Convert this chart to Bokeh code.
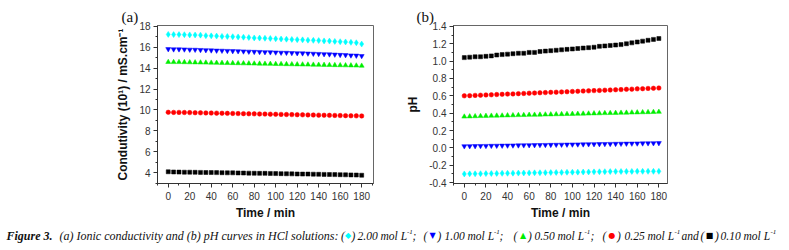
from bokeh.plotting import figure
from bokeh.layouts import column, row
from bokeh.models import Range1d, Title, SingleIntervalTicker, PrintfTickFormatter
from bokeh.core.properties import value
from bokeh.embed import file_html
from bokeh.resources import INLINE

# ---------------- data ----------------
time_min = [0, 5, 10, 15, 20, 25, 30, 35, 40, 45, 50, 55, 60, 65, 70, 75, 80, 85, 90,
            95, 100, 105, 110, 115, 120, 125, 130, 135, 140, 145, 150, 155, 160, 165,
            170, 175, 180]

cond_200 = [17.22, 17.20, 17.20, 17.19, 17.17, 17.16, 17.15, 17.10, 17.08, 17.06, 17.03,
            17.02, 17.00, 16.98, 16.95, 16.92, 16.88, 16.87, 16.85, 16.83, 16.80, 16.78,
            16.76, 16.74, 16.72, 16.70, 16.67, 16.65, 16.63, 16.60, 16.58, 16.55, 16.52,
            16.50, 16.46, 16.42, 16.30]
cond_100 = [15.82, 15.80, 15.80, 15.79, 15.77, 15.76, 15.74, 15.72, 15.70, 15.68, 15.67,
            15.65, 15.63, 15.62, 15.60, 15.58, 15.56, 15.55, 15.53, 15.52, 15.50, 15.48,
            15.47, 15.45, 15.43, 15.42, 15.40, 15.38, 15.36, 15.34, 15.32, 15.30, 15.27,
            15.25, 15.22, 15.20, 15.16]
cond_050 = [14.58, 14.57, 14.57, 14.56, 14.55, 14.54, 14.53, 14.52, 14.51, 14.50, 14.49,
            14.48, 14.47, 14.46, 14.45, 14.44, 14.43, 14.42, 14.41, 14.40, 14.39, 14.38,
            14.37, 14.36, 14.35, 14.34, 14.33, 14.32, 14.31, 14.30, 14.29, 14.28, 14.27,
            14.26, 14.25, 14.24, 14.22]
cond_025 = [9.78, 9.77, 9.77, 9.76, 9.75, 9.74, 9.73, 9.72, 9.71, 9.70, 9.69, 9.68, 9.67,
            9.66, 9.65, 9.64, 9.63, 9.62, 9.61, 9.60, 9.59, 9.58, 9.57, 9.56, 9.55, 9.54,
            9.53, 9.52, 9.51, 9.50, 9.49, 9.48, 9.47, 9.46, 9.45, 9.44, 9.43]
cond_010 = [4.10, 4.08, 4.07, 4.06, 4.06, 4.05, 4.04, 4.03, 4.03, 4.02, 4.01, 4.00, 4.00,
            3.99, 3.98, 3.97, 3.96, 3.95, 3.95, 3.94, 3.93, 3.92, 3.91, 3.90, 3.89, 3.88,
            3.88, 3.87, 3.86, 3.85, 3.84, 3.83, 3.82, 3.81, 3.80, 3.79, 3.77]

ph_200 = [-0.300, -0.299, -0.298, -0.297, -0.296, -0.295, -0.294, -0.293, -0.292, -0.291,
          -0.290, -0.289, -0.288, -0.287, -0.286, -0.285, -0.284, -0.283, -0.282, -0.281,
          -0.280, -0.279, -0.278, -0.277, -0.276, -0.275, -0.274, -0.273, -0.272, -0.272,
          -0.271, -0.271, -0.270, -0.270, -0.270, -0.270, -0.270]
ph_100 = [0.020, 0.021, 0.022, 0.023, 0.024, 0.025, 0.026, 0.027, 0.028, 0.029, 0.030,
          0.031, 0.032, 0.033, 0.034, 0.035, 0.036, 0.037, 0.038, 0.039, 0.040, 0.041,
          0.042, 0.043, 0.044, 0.045, 0.046, 0.047, 0.048, 0.049, 0.050, 0.051, 0.052,
          0.053, 0.054, 0.055, 0.056]
ph_050 = [0.360, 0.362, 0.364, 0.366, 0.368, 0.370, 0.371, 0.372, 0.374, 0.375, 0.377,
          0.378, 0.380, 0.381, 0.382, 0.384, 0.385, 0.387, 0.388, 0.390, 0.391, 0.392,
          0.394, 0.395, 0.397, 0.398, 0.400, 0.401, 0.402, 0.404, 0.405, 0.407, 0.408,
          0.410, 0.411, 0.413, 0.415]
ph_025 = [0.600, 0.602, 0.605, 0.607, 0.610, 0.612, 0.615, 0.617, 0.620, 0.622, 0.625,
          0.627, 0.630, 0.632, 0.635, 0.637, 0.640, 0.642, 0.645, 0.647, 0.650, 0.652,
          0.655, 0.657, 0.660, 0.662, 0.665, 0.667, 0.670, 0.672, 0.675, 0.677, 0.680,
          0.682, 0.685, 0.687, 0.690]
ph_010 = [1.040, 1.045, 1.050, 1.050, 1.055, 1.060, 1.070, 1.075, 1.080, 1.085, 1.090,
          1.090, 1.100, 1.100, 1.110, 1.115, 1.120, 1.125, 1.130, 1.135, 1.140, 1.145,
          1.150, 1.155, 1.160, 1.170, 1.175, 1.180, 1.185, 1.190, 1.200, 1.210, 1.220,
          1.230, 1.240, 1.250, 1.260]

series_conc = ["2.00", "1.00", "0.50", "0.25", "0.10"]
series_colors = ["#00ffff", "#0000ff", "#00ee00", "#ff0000", "#000000"]
series_markers = ["diamond", "inverted_triangle", "triangle", "circle", "square"]
series_sizes = [6, 5, 5, 4.5, 4]
series_symbols = ["◆", "▼", "▲", "●", "■"]

cond_series = [cond_200, cond_100, cond_050, cond_025, cond_010]
ph_series = [ph_200, ph_100, ph_050, ph_025, ph_010]

x_label = "Time / min"
cond_label = "Condutivity (10¹) / mS.cm⁻¹"
ph_label = "pH"

SANS = "Liberation Sans"
SERIF = "Liberation Serif"


def style(p, yint, yfmt=None):
    p.xgrid.visible = False
    p.ygrid.visible = False
    p.outline_line_color = "#666666"
    p.outline_line_width = 1
    p.xaxis.ticker = SingleIntervalTicker(interval=20, num_minor_ticks=2)
    p.yaxis.ticker = SingleIntervalTicker(interval=yint, num_minor_ticks=2)
    if yfmt:
        p.yaxis.formatter = PrintfTickFormatter(format=yfmt)
    for ax in (p.xaxis[0], p.yaxis[0]):
        ax.axis_line_color = "#333333"
        ax.major_tick_line_color = "#333333"
        ax.minor_tick_line_color = "#333333"
        ax.major_tick_out = 4
        ax.major_tick_in = 0
        ax.minor_tick_out = 2
        ax.minor_tick_in = 0
        ax.major_label_text_font = SANS
        ax.major_label_text_font_size = "10px"
        ax.major_label_text_color = "#333333"
        ax.axis_label_text_font = SANS
        ax.axis_label_text_font_size = "12px"
        ax.axis_label_text_font_style = "bold"
        ax.axis_label_text_color = "#111111"
    p.xaxis.major_label_standoff = 4
    p.xaxis.axis_label_standoff = 3
    p.yaxis.major_label_standoff = 3
    p.yaxis.axis_label_standoff = 6


def panel_title(p, txt, off):
    t = Title(text=txt, align="left", offset=off, text_font=SERIF,
              text_font_size="15px", text_font_style="normal", text_color="#111111",
              standoff=2)
    p.add_layout(t, "above")


# ---------------- panel (a) ----------------
pa = figure(width=400, height=222, output_backend="svg", toolbar_location=None,
            x_range=Range1d(-10, 191), y_range=Range1d(2.98, 18.07),
            min_border_left=157, min_border_right=27, min_border_top=24,
            min_border_bottom=35, x_axis_label=x_label, y_axis_label=cond_label)
style(pa, 2)
for ys, c, m, s in zip(cond_series, series_colors, series_markers, series_sizes):
    pa.scatter(time_min, ys, marker=m, size=s, fill_color=c, line_color=c, line_width=0.5)
panel_title(pa, "(a)", -36)

# ---------------- panel (b) ----------------
pb = figure(width=389, height=222, output_backend="svg", toolbar_location=None,
            x_range=Range1d(-10, 188), y_range=Range1d(-0.41, 1.41),
            min_border_left=53, min_border_right=122, min_border_top=25,
            min_border_bottom=34, x_axis_label=x_label, y_axis_label=ph_label)
style(pb, 0.2, "%.1f")
for ys, c, m, s in zip(ph_series, series_colors, series_markers, series_sizes):
    pb.scatter(time_min, ys, marker=m, size=s, fill_color=c, line_color=c, line_width=0.5)
panel_title(pb, "(b)", -37)

# ---------------- caption ----------------
cap = figure(width=789, height=28, output_backend="svg", toolbar_location=None,
             x_range=Range1d(0, 789), y_range=Range1d(28, 0),
             x_axis_location=None, y_axis_location=None, min_border=0)
cap.outline_line_color = None
cap.xgrid.visible = False
cap.ygrid.visible = False
ty = 13
cap.text(x=[6], y=[ty], text=["Figure 3."], text_font=value(SERIF),
         text_font_size="12px", text_font_style="bold italic",
         text_baseline="middle", text_align="left", text_color="#111111")
cap.text(x=[59], y=[ty], text=["(a) Ionic conductivity and (b) pH curves in HCl solutions:"],
         text_font=value(SERIF), text_font_size="12px", text_font_style="italic",
         text_baseline="middle", text_align="left", text_color="#111111")

cap_text = ["(", ")", series_conc[0] + " mol L", ";",
            "(", ")", series_conc[1] + " mol L", ";",
            "(", ")", series_conc[2] + " mol L", ";",
            "(", ")", series_conc[3] + " mol L", "and",
            "(", ")", series_conc[4] + " mol L"]
cap_x = [340.5, 351, 357, 412,
         423, 437, 444, 499,
         513, 527.5, 534, 590,
         602, 616.5, 624, 681,
         700, 714.5, 720]
cap.text(x=cap_x, y=[ty] * len(cap_x), text=cap_text, text_font=value(SERIF),
         text_font_size="11.5px", text_font_style="italic",
         text_baseline="middle", text_align="left", text_color="#111111")
sup_x = [406.5, 493.5, 584, 674, 770]
cap.text(x=sup_x, y=[ty - 4] * 5, text=["-1"] * 5, text_font=value(SERIF),
         text_font_size="7px", text_font_style="italic",
         text_baseline="middle", text_align="left", text_color="#111111")
sym_x = [347.5, 432, 522.5, 611.5, 709]
cap.text(x=sym_x, y=[ty] * 5, text=series_symbols, text_font=value("DejaVu Sans"),
         text_font_size="8px", text_baseline="middle", text_align="center",
         text_color=series_colors)

layout = column(row(pa, pb, spacing=0), cap, spacing=0)
open("out.html", "w").write(file_html(layout, INLINE))
